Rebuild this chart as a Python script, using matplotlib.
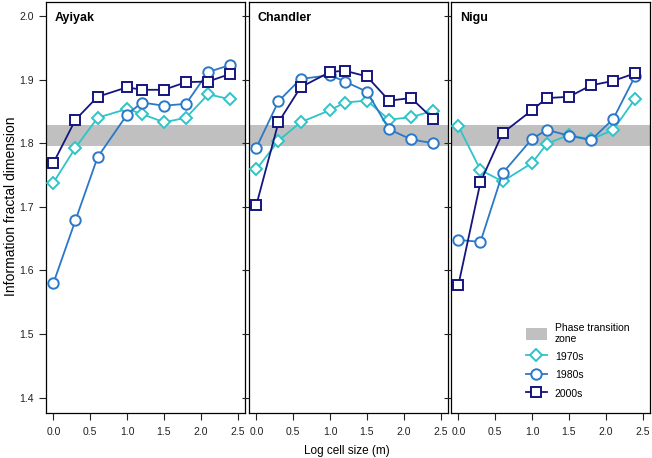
import matplotlib
matplotlib.use("Agg")
import matplotlib.pyplot as plt
from matplotlib.patches import Patch
from matplotlib.lines import Line2D

plt.rcParams['font.family'] = ['Liberation Sans', 'DejaVu Sans']

# log cell size
x = [0.0, 0.3, 0.6, 1.0, 1.2, 1.5, 1.8, 2.1, 2.4]

sites = ["Ayiyak", "Chandler", "Nigu"]

d1970 = {
    "Ayiyak":   [1.738, 1.793, 1.840, 1.854, 1.846, 1.833, 1.840, 1.877, 1.869],
    "Chandler": [1.759, 1.804, 1.833, 1.852, 1.864, 1.867, 1.837, 1.841, 1.851],
    "Nigu":     [1.827, 1.758, 1.740, 1.769, 1.799, 1.813, 1.806, 1.821, 1.870],
}
d1980 = {
    "Ayiyak":   [1.580, 1.679, 1.778, 1.845, 1.864, 1.859, 1.862, 1.912, 1.923],
    "Chandler": [1.793, 1.866, 1.901, 1.907, 1.897, 1.881, 1.822, 1.806, 1.800],
    "Nigu":     [1.648, 1.645, 1.753, 1.807, 1.821, 1.812, 1.805, 1.838, 1.906],
}
d2000 = {
    "Ayiyak":   [1.769, 1.837, 1.873, 1.888, 1.884, 1.884, 1.896, 1.897, 1.909],
    "Chandler": [1.703, 1.833, 1.888, 1.912, 1.914, 1.905, 1.867, 1.871, 1.838],
    "Nigu":     [1.577, 1.739, 1.816, 1.852, 1.871, 1.873, 1.891, 1.898, 1.910],
}

# phase transition band
band_lo, band_hi = 1.796, 1.829

series = [
    ("1970s", d1970, "#2ec4c8", "D", 6.5),
    ("1980s", d1980, "#2a78c8", "o", 7.5),
    ("2000s", d2000, "#15157f", "s", 7.0),
]

fig = plt.figure(figsize=(6.52, 4.58), dpi=100)

W, H = 652.0, 458.0
lefts = [46, 249, 451]
pw = 199
top, bot = 2, 413

axes = []
for i, site in enumerate(sites):
    ax = fig.add_axes([lefts[i] / W, 1 - bot / H, pw / W, (bot - top) / H])
    axes.append(ax)
    ax.axhspan(band_lo, band_hi, color="#c0c0c0", lw=0, zorder=1)
    for name, d, col, mk, ms in series:
        ax.plot(x, d[site], color=col, lw=1.3, marker=mk, ms=ms,
                mfc="white", mec=col, mew=1.4, zorder=3, clip_on=False)
    ax.set_xlim(-0.1, 2.6)
    ax.set_ylim(1.376, 2.022)
    ax.set_xticks([0.0, 0.5, 1.0, 1.5, 2.0, 2.5])
    ax.set_xticklabels(["0.0", "0.5", "1.0", "1.5", "2.0", "2.5"])
    ax.set_yticks([1.4, 1.5, 1.6, 1.7, 1.8, 1.9, 2.0])
    ax.tick_params(direction="out", length=5, width=0.8, labelsize=7.5,
                   colors="#222222", pad=4)
    ax.tick_params(axis="x", pad=5)
    if i > 0:
        ax.tick_params(axis="y", labelleft=False)
    for s in ax.spines.values():
        s.set_linewidth(0.9)
    ax.text(0.045, 0.975, site, transform=ax.transAxes, ha="left", va="top",
            fontsize=9, fontweight="bold")

fig.text(11 / W, 1 - 206 / H, "Information fractal dimension", rotation=90,
         ha="center", va="center", fontsize=10)
fig.text(347 / W, 1 - 451 / H, "Log cell size (m)", ha="center",
         va="center", fontsize=8.5)

handles = [Patch(facecolor="#c0c0c0", edgecolor="none",
                 label="Phase transition\nzone")]
for name, d, col, mk, ms in series:
    handles.append(Line2D([], [], color=col, lw=1.3, marker=mk, ms=ms,
                          mfc="white", mec=col, mew=1.4, label=name))
leg = axes[2].legend(handles=handles, loc="upper left",
                     bbox_to_anchor=(0.37, 0.222), frameon=False, fontsize=7.5,
                     handlelength=2.0, handleheight=1.4, handletextpad=0.8,
                     labelspacing=0.6, borderaxespad=0.0, borderpad=0.1)

fig.savefig("out.png", dpi=100)
